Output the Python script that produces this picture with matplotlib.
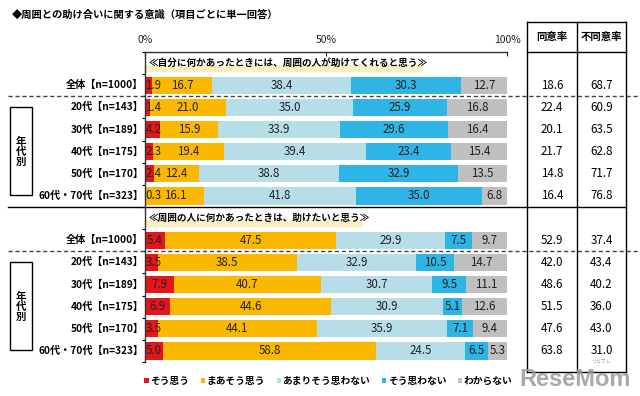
import numpy as np
import matplotlib.pyplot as plt
from matplotlib.patches import Rectangle

plt.rcParams['font.family'] = ['Noto Sans CJK JP', 'DejaVu Sans']

title = '◆周囲との助け合いに関する意識（項目ごとに単一回答）'
groups = ['全体【n=1000】', '20代【n=143】', '30代【n=189】', '40代【n=175】',
          '50代【n=170】', '60代・70代【n=323】']
answers = ['そう思う', 'まあそう思う', 'あまりそう思わない', 'そう思わない', 'わからない']
colors = ['#e4161b', '#fbb800', '#b7dde8', '#2fb4e6', '#bfbfbf']

q1_title = '≪自分に何かあったときには、周囲の人が助けてくれると思う≫'
q1_sou = [1.9, 1.4, 4.2, 2.3, 2.4, 0.3]
q1_maa = [16.7, 21.0, 15.9, 19.4, 12.4, 16.1]
q1_amari = [38.4, 35.0, 33.9, 39.4, 38.8, 41.8]
q1_not = [30.3, 25.9, 29.6, 23.4, 32.9, 35.0]
q1_dk = [12.7, 16.8, 16.4, 15.4, 13.5, 6.8]
q1_agree = [18.6, 22.4, 20.1, 21.7, 14.8, 16.4]
q1_disagree = [68.7, 60.9, 63.5, 62.8, 71.7, 76.8]

q2_title = '≪周囲の人に何かあったときは、助けたいと思う≫'
q2_sou = [5.4, 3.5, 7.9, 6.9, 3.5, 5.0]
q2_maa = [47.5, 38.5, 40.7, 44.6, 44.1, 58.8]
q2_amari = [29.9, 32.9, 30.7, 30.9, 35.9, 24.5]
q2_not = [7.5, 10.5, 9.5, 5.1, 7.1, 6.5]
q2_dk = [9.7, 14.7, 11.1, 12.6, 9.4, 5.3]
q2_agree = [52.9, 42.0, 48.6, 51.5, 47.6, 63.8]
q2_disagree = [37.4, 43.4, 40.2, 36.0, 43.0, 31.0]

table_cols = ['同意率', '不同意率']

fig = plt.figure(figsize=(6.4, 3.96), dpi=100)
ax = fig.add_axes([145 / 640, 1 - 362 / 396, 362 / 640, 310 / 396])

blocks = [
    (0, q1_title, 76, [q1_sou, q1_maa, q1_amari, q1_not, q1_dk], q1_agree, q1_disagree),
    (7, q2_title, 60, [q2_sou, q2_maa, q2_amari, q2_not, q2_dk], q2_agree, q2_disagree),
]

handles = []
for head, qtitle, hl_w, series, agree, disagree in blocks:
    rows = np.arange(len(groups)) + head + 1
    left = np.zeros(len(groups))
    for k, vals in enumerate(series):
        vals = np.array(vals)
        b = ax.barh(rows, vals, left=left, height=0.78, color=colors[k], label=answers[k])
        if head == 0:
            handles.append(b)
        for r, l, v in zip(rows, left, vals):
            x = l + v / 2
            if k == 0:
                x = max(x, 2.3)
            ax.text(x, r, f'{v:.1f}', ha='center', va='center', fontsize=8.3, color='#222222')
        left = left + vals
    # section header with highlighter band
    ax.add_patch(Rectangle((0, head + 0.08), hl_w, 0.28, color='#fcefc4', zorder=1, clip_on=False))
    ax.text(1, head, qtitle, ha='left', va='center', fontsize=6.9, weight='bold', zorder=3)
    for r, g in zip(rows, groups):
        ax.text(-0.4, r, g, ha='right', va='center', fontsize=7.3, weight='bold', clip_on=False)
    # table values
    for r, a, d in zip(rows, agree, disagree):
        ax.text(112.4, r, f'{a:.1f}', ha='center', va='center', fontsize=8.3, clip_on=False)
        ax.text(126.1, r, f'{d:.1f}', ha='center', va='center', fontsize=8.3, clip_on=False)
    # dashed divider below 全体
    ax.plot([-37.8, 136.7], [head + 1.5, head + 1.5], color='#444444', lw=1,
            ls=(0, (3, 2)), clip_on=False)
    # 年代別 box
    ax.add_patch(Rectangle((-37.3, head + 2), 6.1, 3.95, fill=False, ec='black', lw=1, clip_on=False))
    ax.text(-34.25, head + 4, '年\n代\n別', ha='center', va='center', fontsize=7.5,
            weight='bold', linespacing=1.0, clip_on=False)

# solid separator between the two questions
ax.plot([-37.8, 132.9], [6.5, 6.5], color='black', lw=1, clip_on=False)

# right table frame
tx = [105.5, 119.3, 132.9]
ty_top, ty_head, ty_bot = -1.85, -0.5, 13.95
for x in tx:
    ax.plot([x, x], [ty_top, ty_bot], color='black', lw=1, clip_on=False)
for y in [ty_top, ty_head, ty_bot]:
    ax.plot([tx[0], tx[-1]], [y, y], color='black', lw=1, clip_on=False)
for x, c in zip([112.4, 126.1], table_cols):
    ax.text(x, -1.18, c, ha='center', va='center', fontsize=7.5, weight='bold', clip_on=False)

ax.set_xlim(0, 100)
ax.set_ylim(13.5, -0.5)
ax.xaxis.tick_top()
ax.set_xticks([0, 50, 100])
ax.set_xticklabels(['0%', '50%', '100%'])
ax.tick_params(axis='x', direction='in', length=3, labelsize=7.5, pad=5, colors='#222222')
ax.set_yticks(np.arange(-0.5, 14, 1))
ax.set_yticklabels([])
ax.tick_params(axis='y', direction='out', length=2)
for s in ['right', 'bottom']:
    ax.spines[s].set_visible(False)
for s in ['top', 'left']:
    ax.spines[s].set_linewidth(1)
    ax.spines[s].set_color('#333333')

fig.text(12 / 640, 1 - 15 / 396, title, ha='left', va='center', fontsize=7.4, weight='bold')

fig.legend(handles=handles, labels=answers, loc='center', bbox_to_anchor=(0.513, 0.038),
           ncol=5, frameon=False, handlelength=0.45, handleheight=0.45,
           handletextpad=0.15, columnspacing=1.2, prop={'weight': 'bold', 'size': 7})

fig.text(0.985, 0.012, 'ReseMom', ha='right', va='bottom', color='#9a9a9a', fontsize=17,
         weight='bold', family=['Liberation Sans Narrow', 'Liberation Sans'], alpha=0.85)
fig.text(0.955, 0.082, 'リセマム', ha='right', va='bottom', color='#9a9a9a', fontsize=3.5)

fig.savefig('out.png', dpi=100)
